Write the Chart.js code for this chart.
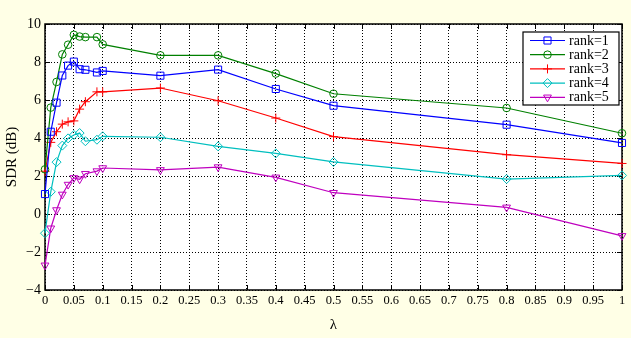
<!DOCTYPE html>
<html>
<head>
<meta charset="utf-8">
<script src="https://cdn.jsdelivr.net/npm/chart.js@4/dist/chart.umd.min.js"></script>
<style>
html,body{margin:0;padding:0;background:#ffffe6;}
#wrap{position:relative;width:631px;height:338px;}
</style>
</head>
<body>
<div id="wrap"><canvas id="c" width="631" height="338"></canvas></div>
<script>
const lambdas = [0, 0.01, 0.02, 0.03, 0.04, 0.05, 0.06, 0.07, 0.09, 0.1, 0.2, 0.3, 0.4, 0.5, 0.8, 1];
const rank1 = [1.05, 4.33, 5.86, 7.29, 7.81, 8.02, 7.62, 7.59, 7.45, 7.53, 7.28, 7.60, 6.58, 5.70, 4.70, 3.74];
const rank2 = [2.35, 5.60, 6.95, 8.40, 8.91, 9.43, 9.34, 9.31, 9.31, 8.93, 8.35, 8.35, 7.39, 6.33, 5.58, 4.25];
const rank3 = [2.25, 3.77, 4.33, 4.73, 4.85, 4.90, 5.52, 5.91, 6.43, 6.43, 6.63, 5.96, 5.05, 4.07, 3.12, 2.66];
const rank4 = [-1.01, 1.17, 2.73, 3.60, 3.98, 4.16, 4.26, 3.83, 3.91, 4.09, 4.04, 3.56, 3.19, 2.74, 1.84, 2.03];
const rank5 = [-2.70, -0.75, 0.21, 1.03, 1.55, 1.90, 1.83, 2.12, 2.26, 2.42, 2.32, 2.47, 1.93, 1.12, 0.35, -1.15];
const seriesNames = ['rank=1', 'rank=2', 'rank=3', 'rank=4', 'rank=5'];
const xTitle = 'λ';
const yTitle = 'SDR (dB)';

const styles = [
  {color:'#0000ff', pointStyle:'rect', radius:5, rotation:0},
  {color:'#008000', pointStyle:'circle', radius:3.8, rotation:0},
  {color:'#ff0000', pointStyle:'cross', radius:4.5, rotation:0},
  {color:'#00bfbf', pointStyle:'rectRot', radius:4.5, rotation:0},
  {color:'#bf00bf', pointStyle:'triangle', radius:4.5, rotation:180}
];
const allSeries = [rank1, rank2, rank3, rank4, rank5];

Chart.defaults.font.family = '"Liberation Serif", "Times New Roman", serif';
Chart.defaults.color = '#000';

const datasets = allSeries.map((vals, i) => ({
  label: seriesNames[i],
  data: lambdas.map((x, j) => ({x: x, y: vals[j]})),
  borderColor: styles[i].color,
  backgroundColor: 'transparent',
  pointBackgroundColor: 'transparent',
  pointBorderColor: styles[i].color,
  pointStyle: styles[i].pointStyle,
  pointRadius: styles[i].radius,
  pointRotation: styles[i].rotation,
  pointBorderWidth: 1,
  borderWidth: 1.2,
  tension: 0,
  clip: false
}));

const framePlugin = {
  id: 'frame',
  beforeDraw(chart) {
    const ctx = chart.ctx, a = chart.chartArea;
    ctx.save();
    ctx.fillStyle = '#ffffe6';
    ctx.fillRect(0, 0, chart.width, chart.height);
    ctx.fillStyle = '#ffffff';
    ctx.fillRect(a.left, a.top, a.right - a.left, a.bottom - a.top);
    ctx.restore();
  },
  beforeDatasetsDraw(chart) {
    const ctx = chart.ctx, a = chart.chartArea;
    const xs = chart.scales.x, ys = chart.scales.y;
    ctx.save();
    ctx.strokeStyle = '#000';
    ctx.lineWidth = 1;
    const tl = 5;
    ctx.beginPath();
    xs.ticks.forEach(t => {
      const px = Math.round(xs.getPixelForValue(t.value)) + 0.5;
      ctx.moveTo(px, a.bottom); ctx.lineTo(px, a.bottom - tl);
      ctx.moveTo(px, a.top); ctx.lineTo(px, a.top + tl);
    });
    ys.ticks.forEach(t => {
      const py = Math.round(ys.getPixelForValue(t.value)) + 0.5;
      ctx.moveTo(a.left, py); ctx.lineTo(a.left + tl, py);
      ctx.moveTo(a.right, py); ctx.lineTo(a.right - tl, py);
    });
    ctx.stroke();
    ctx.lineWidth = 1.5;
    ctx.strokeRect(a.left, a.top, a.right - a.left, a.bottom - a.top);
    ctx.restore();
  },
  afterDraw(chart) {
    const ctx = chart.ctx;
    const bx = 523, by = 32, bw = 96, bh = 73, rowH = 14.2;
    ctx.save();
    ctx.fillStyle = '#fff';
    ctx.fillRect(bx, by, bw, bh);
    ctx.strokeStyle = '#000';
    ctx.lineWidth = 1.2;
    ctx.strokeRect(bx, by, bw, bh);
    ctx.font = '14px "Liberation Serif", serif';
    ctx.textBaseline = 'middle';
    ctx.textAlign = 'left';
    chart.data.datasets.forEach((ds, i) => {
      const y = by + 8.5 + i * rowH;
      ctx.strokeStyle = ds.borderColor;
      ctx.lineWidth = 1.2;
      ctx.beginPath();
      ctx.moveTo(bx + 7, y); ctx.lineTo(bx + 42, y);
      ctx.stroke();
      ctx.lineWidth = 1;
      ctx.fillStyle = 'rgba(0,0,0,0)';
      Chart.helpers.drawPoint(ctx, {pointStyle: ds.pointStyle, radius: ds.pointRadius, rotation: ds.pointRotation, borderWidth: 1}, bx + 24.5, y);
      ctx.fillStyle = '#000';
      ctx.fillText(ds.label, bx + 46, y + 0.5);
    });
    ctx.restore();
  }
};

new Chart(document.getElementById('c'), {
  type: 'line',
  data: {datasets: datasets},
  options: {
    responsive: false,
    animation: false,
    devicePixelRatio: 1,
    layout: {padding: {left: 0, right: 9, top: 24, bottom: 4}},
    plugins: {legend: {display: false}, tooltip: {enabled: false}},
    scales: {
      x: {
        type: 'linear', min: 0, max: 1,
        afterFit(s) { s.height = 44; },
        ticks: {
          stepSize: 0.05, autoSkip: false, maxRotation: 0, minRotation: 0,
          font: {size: 12.5}, padding: 3, color: '#000',
          callback: v => String(Math.round(v * 100) / 100)
        },
        grid: {color: '#000', lineWidth: 1, drawTicks: false},
        border: {display: false, dash: [1, 2]},
        title: {display: true, text: xTitle, font: {size: 15}, color: '#000', padding: {top: 8, bottom: 0}}
      },
      y: {
        min: -4, max: 10,
        afterFit(s) { s.width = 45; },
        ticks: {
          stepSize: 2, font: {size: 14}, padding: 4, color: '#000',
          callback: v => v < 0 ? '\u2212' + Math.abs(v) : String(v)
        },
        grid: {color: '#000', lineWidth: 1, drawTicks: false},
        border: {display: false, dash: [1, 2]},
        title: {display: true, text: yTitle, font: {size: 15}, color: '#000', padding: {top: 3, bottom: 0}}
      }
    }
  },
  plugins: [framePlugin]
});
</script>
</body>
</html>
